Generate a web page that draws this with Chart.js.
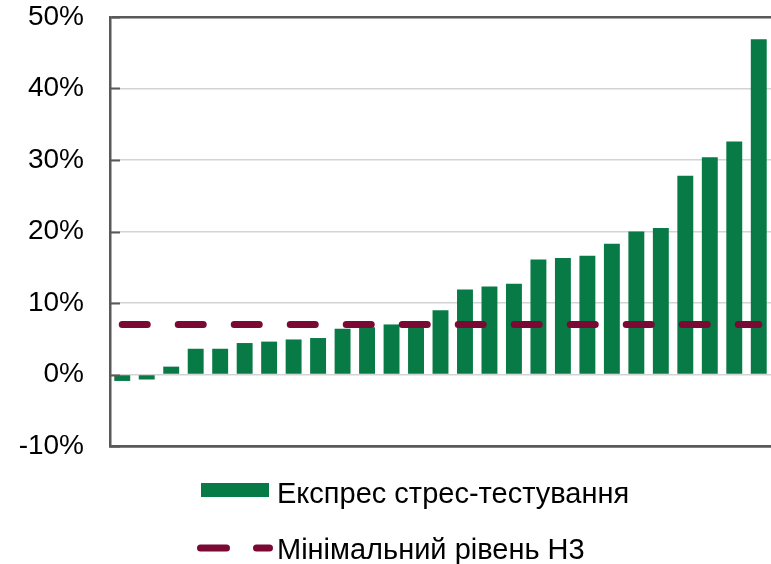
<!DOCTYPE html>
<html>
<head>
<meta charset="utf-8">
<script src="https://cdn.jsdelivr.net/npm/chart.js@4/dist/chart.umd.min.js"></script>
<style>
  html, body { margin: 0; padding: 0; background: #ffffff; }
  #wrap { width: 771px; height: 564px; position: relative; }
</style>
</head>
<body>
<div id="wrap"><canvas id="c"></canvas></div>
<script>
// ---- data ----
const categories = ["1","2","3","4","5","6","7","8","9","10","11","12","13","14","15","16","17","18","19","20","21","22","23","24","25","26","27"];
const stressTest = [-0.9, -0.7, 1.1, 3.6, 3.6, 4.4, 4.6, 4.9, 5.1, 6.4, 6.6, 7.0, 7.0, 9.0, 11.9, 12.3, 12.7, 16.1, 16.3, 16.6, 18.3, 20.0, 20.5, 27.8, 30.4, 32.6, 46.9];
const minLevelH3 = [7, 7, 7, 7, 7, 7, 7, 7, 7, 7, 7, 7, 7, 7, 7, 7, 7, 7, 7, 7, 7, 7, 7, 7, 7, 7, 7];
const yTicks = [-10, 0, 10, 20, 30, 40, 50];
const seriesLabels = ["Експрес стрес-тестування", "Мінімальний рівень Н3"];

const GREEN = "#077a45";
const MAROON = "#7a0a33";
const AXIS = "#595959";
const GRID = "#d3d3d3";
const FONT = "'Liberation Sans', Arial, sans-serif";

const innerTicks = {
  id: "innerTicks",
  afterDatasetsDraw(chart) {
    const { ctx, chartArea, scales } = chart;
    const y = scales.y;
    ctx.save();
    ctx.strokeStyle = AXIS;
    ctx.lineWidth = 2;
    yTicks.forEach(v => {
      const py = Math.round(y.getPixelForValue(v)) + 0.5;
      ctx.beginPath();
      ctx.moveTo(chartArea.left, py);
      ctx.lineTo(chartArea.left + 10, py);
      ctx.stroke();
    });
    ctx.restore();
  }
};

const customLegend = {
  id: "customLegend",
  afterDraw(chart) {
    const { ctx } = chart;
    ctx.save();
    ctx.font = "29px " + FONT;
    ctx.textBaseline = "alphabetic";
    ctx.textAlign = "left";
    // item 1: bar swatch
    ctx.fillStyle = GREEN;
    ctx.fillRect(201, 483, 68, 14);
    ctx.fillStyle = "#000000";
    ctx.fillText(seriesLabels[0], 277, 503);
    // item 2: dashed line swatch
    ctx.strokeStyle = MAROON;
    ctx.lineWidth = 7;
    ctx.lineCap = "round";
    ctx.setLineDash([26, 30]);
    ctx.beginPath();
    ctx.moveTo(200.5, 548);
    ctx.lineTo(269.5, 548);
    ctx.stroke();
    ctx.setLineDash([]);
    ctx.fillText(seriesLabels[1], 277, 559);
    ctx.restore();
  }
};

new Chart(document.getElementById("c"), {
  data: {
    labels: categories,
    datasets: [
      {
        type: "line",
        label: seriesLabels[1],
        data: minLevelH3,
        borderColor: MAROON,
        borderWidth: 7,
        borderDash: [25, 31],
        borderCapStyle: "round",
        pointRadius: 0,
        fill: false,
        order: 0
      },
      {
        type: "bar",
        label: seriesLabels[0],
        data: stressTest,
        backgroundColor: GREEN,
        borderWidth: 0,
        barPercentage: 0.65,
        categoryPercentage: 1.0,
        order: 1
      }
    ]
  },
  options: {
    responsive: true,
    maintainAspectRatio: false,
    animation: false,
    layout: { autoPadding: false, padding: { left: 0, right: 0, top: 17, bottom: 118 } },
    plugins: {
      legend: { display: false },
      tooltip: { enabled: false }
    },
    scales: {
      x: {
        offset: true,
        ticks: { display: false, padding: 0 },
        grid: { display: false, drawTicks: false },
        border: { display: true, color: AXIS, width: 2.5 },
        afterFit(scale) { scale.height = 0; scale.paddingLeft = 0; scale.paddingRight = 0; }
      },
      y: {
        min: -10,
        max: 50,
        afterBuildTicks(scale) { scale.ticks = yTicks.map(v => ({ value: v })); },
        afterFit(scale) { scale.width = 110; scale.paddingTop = 0; scale.paddingBottom = 0; },
        ticks: {
          callback: v => v + "%",
          color: "#000000",
          font: { family: FONT, size: 28 },
          padding: 26
        },
        grid: {
          drawTicks: false,
          color: ctx => (ctx.tick && (ctx.tick.value === 50 || ctx.tick.value === -10)) ? AXIS : GRID,
          lineWidth: ctx => (ctx.tick && (ctx.tick.value === 50 || ctx.tick.value === -10)) ? 2.5 : 1.5
        },
        border: { display: true, color: AXIS, width: 2.5 }
      }
    }
  },
  plugins: [innerTicks, customLegend]
});
</script>
</body>
</html>
